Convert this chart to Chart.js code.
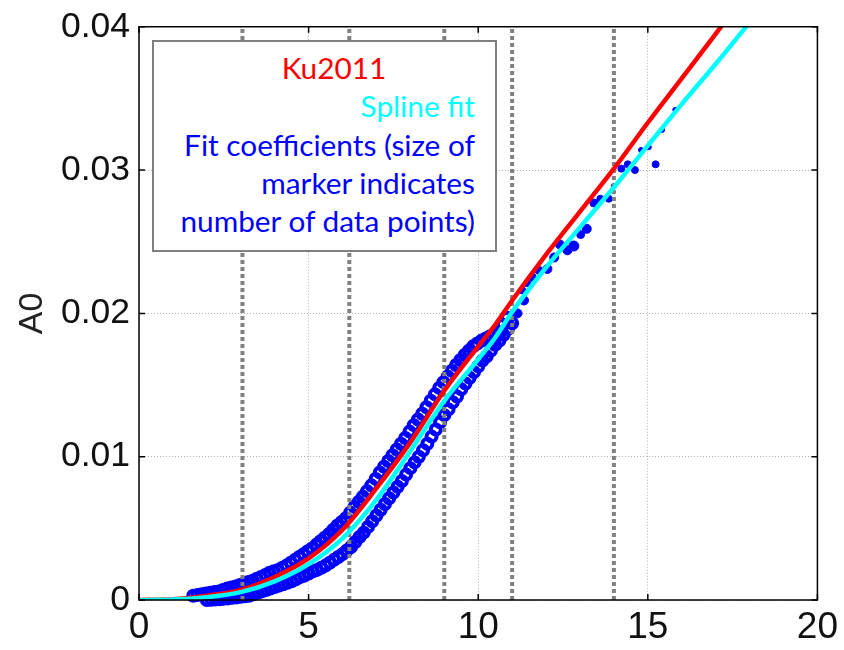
<!DOCTYPE html>
<html>
<head>
<meta charset="utf-8">
<script src="https://cdn.jsdelivr.net/npm/chart.js@4.4.0/dist/chart.umd.min.js"></script>
<style>
  body { margin: 0; background: #fff; }
  #wrap { position: relative; width: 844px; height: 650px; }
  #legend {
    position: absolute; left: 152px; top: 40px; width: 345px; height: 212px;
    box-sizing: border-box; border: 2px solid #7f7f7f; background: #fff;
    font-family: Lato, "Open Sans", sans-serif; font-size: 29.8px; line-height: 34px;
  }
  #legend div { position: absolute; white-space: nowrap; }
  #legend .r { right: 20px; }
</style>
</head>
<body>
<div id="wrap">
  <canvas id="chart" width="844" height="650"></canvas>
  <div id="legend">
    <div style="left:180px;top:9px;transform:translateX(-50%);color:#ff0000">Ku2011</div>
    <div class="r" style="top:47px;color:#00ffff">Spline fit</div>
    <div class="r" style="top:86px;color:#0000ff">Fit coefficients (size of</div>
    <div class="r" style="top:124px;color:#0000ff">marker indicates</div>
    <div class="r" style="top:162px;color:#0000ff">number of data points)</div>
  </div>
</div>
<script>
// ---- data ----
const xTicks = [0, 5, 10, 15, 20];
const yTicks = [0, 0.01, 0.02, 0.03, 0.04];
const yTickLabels = ['0', '0.01', '0.02', '0.03', '0.04'];

// vertical dashed markers
const dashedX = [3.05, 6.2, 9.0, 11.0, 14.0];

// Ku2011 curve (red)
const ku2011X = [0, 1, 2, 3, 4, 5, 6, 7, 8, 9, 10, 10.5, 11, 12, 13, 14, 15, 16, 17, 17.5];
const ku2011Y = [0, 0.00005, 0.0003, 0.0007, 0.0016, 0.0029, 0.0049, 0.0078, 0.0110, 0.0146, 0.0177, 0.0192, 0.0209, 0.0241, 0.0271, 0.0301, 0.0333, 0.0364, 0.0395, 0.0411];

// spline fit (cyan)
const splineX = [0, 1, 2, 3, 4, 5, 6, 7, 8, 9, 10, 10.5, 11, 12, 13, 14, 15, 16, 17, 18];
const splineY = [0, 0.00003, 0.0002, 0.00055, 0.0013, 0.0025, 0.0043, 0.0070, 0.0104, 0.0139, 0.0168, 0.0183, 0.0201, 0.0232, 0.0260, 0.0288, 0.0317, 0.0346, 0.0374, 0.0403];

// fit coefficients, large open markers, upper edge of the band
const bandUpX = [
  1.6, 1.725, 1.85, 1.975, 2.1, 2.225, 2.35, 2.475, 2.6, 2.725, 2.85, 2.975,
  3.1, 3.225, 3.35, 3.475, 3.6, 3.725, 3.85, 3.975, 4.1, 4.225, 4.35, 4.475,
  4.6, 4.725, 4.85, 4.975, 5.1, 5.225, 5.35, 5.475, 5.6, 5.725, 5.85, 5.975,
  6.1, 6.225, 6.35, 6.475, 6.6, 6.725, 6.85, 6.975, 7.1, 7.225, 7.35, 7.475,
  7.6, 7.725, 7.85, 7.975, 8.1, 8.225, 8.35, 8.475, 8.6, 8.725, 8.85, 8.975,
  9.1, 9.225, 9.35, 9.475, 9.6, 9.725, 9.85, 9.975, 10.1, 10.225, 10.35, 10.475,
  10.6, 10.725, 10.85];
const bandUpY = [
  0.0003, 0.00035, 0.0004, 0.00045, 0.0005, 0.00055, 0.0006, 0.0007, 0.0008, 0.00088, 0.00095, 0.00105,
  0.00115, 0.00125, 0.00135, 0.00148, 0.0016, 0.00175, 0.0019, 0.0020, 0.0021, 0.00225, 0.0024, 0.0026,
  0.0028, 0.0030, 0.0032, 0.0034, 0.0036, 0.00385, 0.0041, 0.00435, 0.0046, 0.0049, 0.0052, 0.00545,
  0.0057, 0.0061, 0.0065, 0.00685, 0.0072, 0.0076, 0.0080, 0.00845, 0.0089, 0.0093, 0.0097, 0.0101,
  0.0105, 0.0109, 0.0113, 0.01175, 0.0122, 0.0126, 0.0130, 0.01345, 0.0139, 0.01435, 0.0148, 0.0152,
  0.0156, 0.0160, 0.0164, 0.01675, 0.0171, 0.0174, 0.0177, 0.0179, 0.0181, 0.01825, 0.0184, 0.01855,
  0.0187, 0.0192, 0.0197];

// lower edge of the band
const bandLoX = [
  2.0, 2.125, 2.25, 2.375, 2.5, 2.625, 2.75, 2.875, 3.0, 3.125, 3.25, 3.375,
  3.5, 3.625, 3.75, 3.875, 4.0, 4.125, 4.25, 4.375, 4.5, 4.625, 4.75, 4.875,
  5.0, 5.125, 5.25, 5.375, 5.5, 5.625, 5.75, 5.875, 6.0, 6.125, 6.25, 6.375,
  6.5, 6.625, 6.75, 6.875, 7.0, 7.125, 7.25, 7.375, 7.5, 7.625, 7.75, 7.875,
  8.0, 8.125, 8.25, 8.375, 8.5, 8.625, 8.75, 8.875, 9.0, 9.125, 9.25, 9.375,
  9.5, 9.625, 9.75, 9.875, 10.0, 10.125, 10.25, 10.375, 10.5, 10.625, 10.75, 10.875,
  11.0];
const bandLoY = [
  0.0, 0.00001, 0.00003, 0.00005, 0.00008, 0.00011, 0.00015, 0.00018, 0.00022, 0.00026, 0.0003, 0.0004,
  0.0005, 0.0006, 0.0007, 0.0008, 0.0009, 0.0010, 0.0011, 0.0012, 0.0013, 0.00145, 0.0016, 0.0017,
  0.00185, 0.0020, 0.0021, 0.00225, 0.0024, 0.0026, 0.0028, 0.0030, 0.0032, 0.00345, 0.0037, 0.00405,
  0.0044, 0.0047, 0.0051, 0.0055, 0.0059, 0.0063, 0.0067, 0.0071, 0.0075, 0.0079, 0.0083, 0.00875,
  0.0092, 0.0096, 0.0100, 0.01045, 0.0109, 0.0114, 0.0119, 0.0124, 0.0129, 0.0133, 0.0138, 0.0142,
  0.0147, 0.0151, 0.0155, 0.0159, 0.0163, 0.0167, 0.0170, 0.0174, 0.0178, 0.0181, 0.0185, 0.0189,
  0.0193];

// sparse coefficients above x=10 (filled, size = number of points)
const tailX = [10.42, 10.72, 10.96, 11.16, 11.3, 11.35, 11.44, 11.6, 11.79, 12.04, 12.24, 12.41, 12.63, 12.82, 13.02, 13.2, 13.41, 13.6, 13.85, 14.0, 14.22, 14.41, 14.62, 14.8, 15.03, 15.23, 15.42, 15.81];
const tailY = [0.0182, 0.0186, 0.0192, 0.0200, 0.0216, 0.0209, 0.0221, 0.0225, 0.0230, 0.0231, 0.0239, 0.0248, 0.0244, 0.0247, 0.0255, 0.0259, 0.0277, 0.0280, 0.0280, 0.0289, 0.0301, 0.0304, 0.0300, 0.0314, 0.0316, 0.0304, 0.0328, 0.0342];
const tailR = [3.5, 4, 4, 4.5, 3.5, 4.5, 3.5, 4, 4, 4.5, 4.5, 4.5, 4.5, 5, 4, 4.5, 4, 3.5, 3.5, 2.5, 3.5, 3.5, 3.5, 2.5, 2.5, 3.5, 2.5, 2.5];

const pts = (xs, ys) => xs.map((x, i) => ({ x, y: ys[i] }));

const BLUE = '#0000ff';

const lineStyle = {
  type: 'line', showLine: true, pointRadius: 0, borderWidth: 4.5,
  cubicInterpolationMode: 'monotone', fill: false
};

const dashedSets = dashedX.map(v => ({
  type: 'line', showLine: true, data: [{ x: v, y: 0 }, { x: v, y: 0.04 }],
  borderColor: '#808080', borderWidth: 4, borderDash: [4, 3],
  pointRadius: 0, order: 3
}));

// frame + inward tick marks, matlab style
const framePlugin = {
  id: 'frame',
  afterDatasetsDraw(chart) {
    const { ctx, chartArea: a, scales: { x, y } } = chart;
    ctx.save();
    ctx.strokeStyle = '#000';
    ctx.lineWidth = 1.5;
    ctx.strokeRect(a.left, a.top, a.right - a.left, a.bottom - a.top);
    ctx.beginPath();
    xTicks.forEach(v => {
      const px = x.getPixelForValue(v);
      ctx.moveTo(px, a.bottom); ctx.lineTo(px, a.bottom - 6);
      ctx.moveTo(px, a.top); ctx.lineTo(px, a.top + 6);
    });
    yTicks.forEach(v => {
      const py = y.getPixelForValue(v);
      ctx.moveTo(a.left, py); ctx.lineTo(a.left + 6, py);
      ctx.moveTo(a.right, py); ctx.lineTo(a.right - 6, py);
    });
    ctx.stroke();
    ctx.restore();
  }
};

new Chart(document.getElementById('chart'), {
  type: 'scatter',
  data: {
    datasets: [
      { ...lineStyle, label: 'Spline fit', data: pts(splineX, splineY), borderColor: '#00ffff', order: 1 },
      { ...lineStyle, label: 'Ku2011', data: pts(ku2011X, ku2011Y), borderColor: '#ff0000', order: 2 },
      ...dashedSets,
      {
        label: 'tail', data: pts(tailX, tailY), pointRadius: tailR,
        backgroundColor: BLUE, borderColor: BLUE, borderWidth: 1, order: 4
      },
      {
        label: 'band upper', data: pts(bandUpX, bandUpY), pointRadius: 5,
        backgroundColor: 'rgba(0,0,0,0)', borderColor: BLUE, borderWidth: 4, order: 5, clip: 8
      },
      {
        label: 'band lower', data: pts(bandLoX, bandLoY), pointRadius: 5,
        backgroundColor: 'rgba(0,0,0,0)', borderColor: BLUE, borderWidth: 4, order: 6, clip: 8
      }
    ]
  },
  options: {
    responsive: false,
    animation: false,
    layout: { padding: { top: 20, right: 26, left: 0, bottom: 0 } },
    plugins: { legend: { display: false }, tooltip: { enabled: false } },
    scales: {
      x: {
        type: 'linear', min: 0, max: 20,
        afterBuildTicks: s => { s.ticks = xTicks.map(v => ({ value: v })); },
        afterFit: s => { s.height = 50; },
        ticks: { color: '#111', padding: 6, font: { family: 'Liberation Sans, Arial, sans-serif', size: 37 } },
        grid: { color: '#b0b0b0', lineWidth: 1, drawTicks: false },
        border: { display: false, dash: [1, 2] }
      },
      y: {
        type: 'linear', min: 0, max: 0.04,
        afterBuildTicks: s => { s.ticks = yTicks.map(v => ({ value: v })); },
        afterFit: s => { s.width = 139; },
        ticks: {
          color: '#111', padding: 9,
          font: { family: 'Liberation Sans, Arial, sans-serif', size: 35.5, lineHeight: 1 },
          callback: (v, i) => yTickLabels[i]
        },
        grid: { color: '#b0b0b0', lineWidth: 1, drawTicks: false },
        border: { display: false, dash: [1, 2] },
        title: {
          display: true, text: 'A0', color: '#222', padding: 12,
          font: { family: 'Liberation Sans, Arial, sans-serif', size: 34 }
        }
      }
    }
  },
  plugins: [framePlugin]
});
</script>
</body>
</html>
